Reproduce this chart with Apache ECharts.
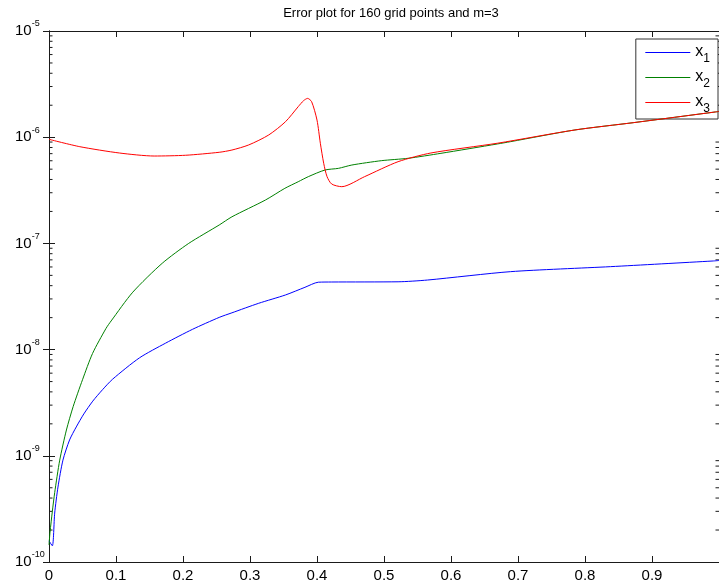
<!DOCTYPE html>
<html>
<head>
<meta charset="utf-8">
<script src="https://cdn.jsdelivr.net/npm/echarts@6/dist/echarts.min.js"></script>
<style>
  html, body { margin: 0; padding: 0; background: #fff; }
  #chart { width: 719px; height: 584px; }
</style>
</head>
<body>
<div id="chart"></div>
<script>
// Error of each solution component against the grid coordinate
const x1X = [0, 0.005, 0.0085, 0.0134, 0.0208, 0.0307, 0.0407, 0.052, 0.0653, 0.08, 0.095, 0.135, 0.174, 0.214, 0.254, 0.273, 0.313, 0.353, 0.382, 0.402, 0.422, 0.521, 0.565, 0.689, 0.838, 0.991, 1.0];
const x1Y = [1.58e-10, 1.42e-10, 2.89e-10, 5.08e-10, 9.1e-10, 1.41e-9, 1.87e-9, 2.48e-9, 3.27e-9, 4.2e-9, 5.27e-9, 8.36e-9, 1.15e-8, 1.55e-8, 2.01e-8, 2.22e-8, 2.73e-8, 3.27e-8, 3.86e-8, 4.31e-8, 4.33e-8, 4.35e-8, 4.52e-8, 5.42e-8, 6.04e-8, 6.83e-8, 6.9e-8];

const x2X = [0, 0.0015, 0.005, 0.0085, 0.016, 0.026, 0.036, 0.05, 0.065, 0.085, 0.0927, 0.125, 0.169, 0.2085, 0.254, 0.273, 0.323, 0.352, 0.372, 0.387, 0.412, 0.432, 0.452, 0.496, 0.536, 0.585, 0.669, 0.689, 0.785, 0.872, 0.995, 1.0];
const x2Y = [1.45e-10, 1.9e-10, 3.0e-10, 4.5e-10, 9.1e-10, 1.75e-9, 2.9e-9, 5.2e-9, 9.2e-9, 1.58e-8, 1.86e-8, 3.47e-8, 6.5e-8, 1.0e-7, 1.49e-7, 1.78e-7, 2.56e-7, 3.3e-7, 3.81e-7, 4.25e-7, 4.91e-7, 5.09e-7, 5.47e-7, 6.01e-7, 6.33e-7, 7.05e-7, 8.63e-7, 9.08e-7, 1.17e-6, 1.37e-6, 1.73e-6, 1.75e-6];

const x3X = [0, 0.046, 0.105, 0.157, 0.204, 0.254, 0.273, 0.298, 0.328, 0.353, 0.372, 0.380, 0.386, 0.392, 0.400, 0.405, 0.410, 0.415, 0.422, 0.437, 0.471, 0.521, 0.570, 0.669, 0.785, 0.872, 0.995, 1.0];
const x3Y = [9.55e-7, 8.14e-7, 7.1e-7, 6.65e-7, 6.76e-7, 7.21e-7, 7.57e-7, 8.45e-7, 1.05e-6, 1.40e-6, 1.94e-6, 2.21e-6, 2.32e-6, 2.16e-6, 1.45e-6, 8.77e-7, 5.68e-7, 4.25e-7, 3.62e-7, 3.42e-7, 4.25e-7, 5.88e-7, 7.1e-7, 8.77e-7, 1.17e-6, 1.37e-6, 1.73e-6, 1.75e-6];

const seriesNames = ['x1', 'x2', 'x3'];
const seriesColors = ['#0000ff', '#008000', '#ff0000'];
const titleText = 'Error plot for 160 grid points and m=3';

const FONT = '"Liberation Sans", Arial, Helvetica, sans-serif';
const AXIS_COLOR = '#1a1a1a';

const pairs = (xs, ys) => xs.map((x, i) => [x, ys[i]]);

// Log-axis minor tick values (2..9 in every decade)
const minorTicks = [];
for (let e = -10; e < -5; e++) {
  for (let m = 2; m <= 9; m++) minorTicks.push([0, m * Math.pow(10, e)]);
}

const chart = echarts.init(document.getElementById('chart'), null, { renderer: 'canvas' });

const yLabel = {
  show: true,
  align: 'left',
  margin: 34,
  formatter: v => '{b|10}{s|' + Math.round(Math.log10(v)) + '}',
  rich: {
    b: { fontSize: 15, fontFamily: FONT, color: '#000' },
    s: { fontSize: 9, fontFamily: FONT, color: '#000', padding: [0, 0, 14, 0] }
  }
};

chart.setOption({
  animation: false,
  backgroundColor: '#fff',
  color: seriesColors,
  title: {
    text: titleText,
    left: 386,
    textAlign: 'center',
    top: 2,
    textStyle: { fontFamily: FONT, fontSize: 13, fontWeight: 'normal', color: '#000' }
  },
  grid: { left: 49, top: 31, width: 673.3, height: 531, containLabel: false },
  legend: {
    // each entry shows only its line sample; the marker is hidden
    data: seriesNames.map((n, i) => ({
      name: n,
      itemStyle: { color: seriesColors[i], opacity: 0 },
      lineStyle: { color: seriesColors[i], width: 1, opacity: 1 }
    })),
    orient: 'vertical',
    right: 1,
    top: 39,
    backgroundColor: '#fff',
    borderColor: '#333',
    borderWidth: 1,
    borderRadius: 0,
    padding: [5, 8, 4, 9],
    itemWidth: 45,
    itemHeight: 14,
    itemGap: 4,
    selectedMode: false,
    formatter: name => '{b|x}{s|' + name.slice(1) + '}',
    textStyle: {
      rich: {
        b: { fontSize: 16, fontFamily: FONT, color: '#000', padding: [0, 0, 1, 0] },
        s: { fontSize: 12, fontFamily: FONT, color: '#000', padding: [13, 0, 0, 0] }
      }
    }
  },
  xAxis: [
    {
      type: 'value', min: 0, max: 1, interval: 0.1,
      position: 'bottom',
      axisLine: { show: true, lineStyle: { color: AXIS_COLOR, width: 1 } },
      axisTick: { show: true, inside: true, length: 6, lineStyle: { color: AXIS_COLOR } },
      axisLabel: {
        show: true, margin: 6, showMaxLabel: false,
        fontSize: 15, fontFamily: FONT, color: '#000',
        formatter: v => (Math.round(v * 10) / 10).toString()
      },
      splitLine: { show: false }
    },
    {
      type: 'value', min: 0, max: 1, interval: 0.1,
      position: 'top',
      axisLine: { show: true, lineStyle: { color: AXIS_COLOR, width: 1 } },
      axisTick: { show: true, inside: true, length: 6, lineStyle: { color: AXIS_COLOR } },
      axisLabel: { show: false },
      splitLine: { show: false }
    }
  ],
  yAxis: [
    {
      type: 'log', logBase: 10, min: 1e-10, max: 1e-5, splitNumber: 5,
      position: 'left',
      axisLine: { show: true, lineStyle: { color: AXIS_COLOR, width: 1 } },
      axisTick: { show: true, inside: true, length: 6, lineStyle: { color: AXIS_COLOR } },
      axisLabel: yLabel,
      splitLine: { show: false }
    },
    {
      type: 'log', logBase: 10, min: 1e-10, max: 1e-5, splitNumber: 5,
      position: 'right',
      axisLine: { show: true, lineStyle: { color: AXIS_COLOR, width: 1 } },
      axisTick: { show: true, inside: true, length: 6, lineStyle: { color: AXIS_COLOR } },
      axisLabel: { show: false },
      splitLine: { show: false }
    }
  ],
  series: [
    ...seriesNames.map((name, i) => ({
      name,
      type: 'line',
      xAxisIndex: 0, yAxisIndex: 0,
      data: pairs([x1X, x2X, x3X][i], [x1Y, x2Y, x3Y][i]),
      symbol: 'none',
      showSymbol: false,
      smooth: 0.25,
      lineStyle: { color: seriesColors[i], width: 1 },
      itemStyle: { color: seriesColors[i] },
      z: 3 + i
    })),
    {
      type: 'custom',
      name: 'minor ticks',
      silent: true,
      xAxisIndex: 0, yAxisIndex: 0,
      data: minorTicks,
      encode: { x: 0, y: 1 },
      renderItem: (params, api) => {
        const v = api.value(1);
        const pL = api.coord([0, v]);
        const pR = api.coord([1, v]);
        const st = { stroke: AXIS_COLOR, lineWidth: 1 };
        return {
          type: 'group',
          children: [
            { type: 'line', shape: { x1: pL[0], y1: pL[1], x2: pL[0] + 3.5, y2: pL[1] }, style: st },
            { type: 'line', shape: { x1: pR[0], y1: pR[1], x2: pR[0] - 3.5, y2: pR[1] }, style: st }
          ]
        };
      }
    }
  ]
});
</script>
</body>
</html>
